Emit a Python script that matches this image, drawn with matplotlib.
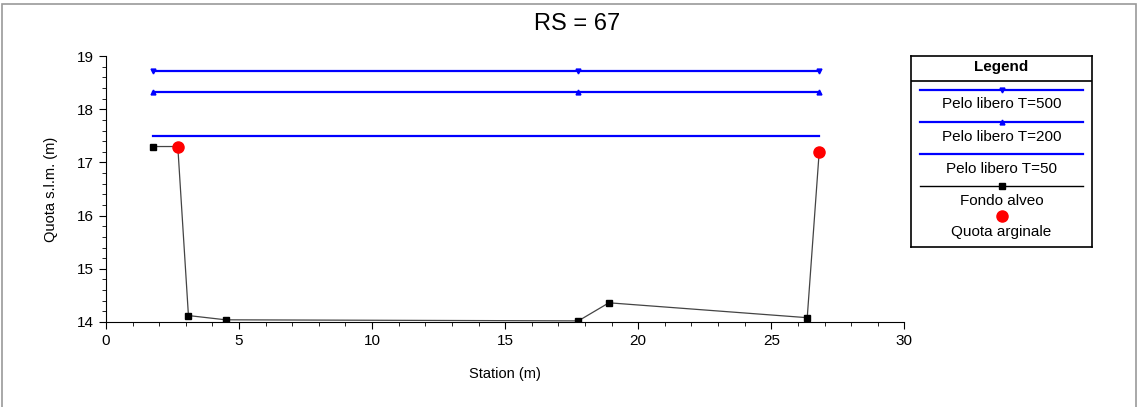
import matplotlib
matplotlib.use("Agg")
import matplotlib.pyplot as plt
from matplotlib.ticker import MultipleLocator
from matplotlib.patches import Rectangle

plt.rcParams['font.family'] = ['Liberation Sans', 'DejaVu Sans']

# Data
fondo_x = [1.75, 2.7, 3.1, 4.5, 17.75, 18.9, 26.35, 26.8]
fondo_y = [17.3, 17.3, 14.12, 14.04, 14.02, 14.36, 14.08, 17.2]
argine_x = [2.7, 26.8]
argine_y = [17.3, 17.2]
ws_x = [1.75, 17.75, 26.8]
ws_t500 = [18.72, 18.72, 18.72]
ws_t200 = [18.32, 18.32, 18.32]
ws_t50 = [17.5, 17.5, 17.5]

blue = '#0000ff'

fig = plt.figure(figsize=(11.39, 4.07), dpi=100)
fig.patches.append(Rectangle((0.002, -0.01), 0.995, 1.0, transform=fig.transFigure,
                             fill=False, edgecolor='#9a9a9a', lw=1.2))

ax = fig.add_axes([0.093, 0.209, 0.701, 0.653])
ax.plot(ws_x, ws_t500, color=blue, lw=1.6, marker='v', ms=3.5)
ax.plot(ws_x, ws_t200, color=blue, lw=1.6, marker='^', ms=3.5)
ax.plot(ws_x, ws_t50, color=blue, lw=1.6)
ax.plot(fondo_x, fondo_y, color='#444444', lw=0.9)
ax.plot(fondo_x[:1] + fondo_x[2:-1], fondo_y[:1] + fondo_y[2:-1], ls='none',
        marker='s', ms=4.5, color='black')
ax.plot(argine_x, argine_y, ls='none', marker='o', ms=8, color='#ff0000')

ax.set_xlim(0, 30)
ax.set_ylim(14, 19)
ax.xaxis.set_major_locator(MultipleLocator(5))
ax.xaxis.set_minor_locator(MultipleLocator(1))
ax.yaxis.set_major_locator(MultipleLocator(1))
ax.yaxis.set_minor_locator(MultipleLocator(0.2))
ax.spines['top'].set_visible(False)
ax.spines['right'].set_visible(False)
ax.tick_params(which='major', direction='out', length=5, labelsize=11)
ax.tick_params(which='minor', direction='out', length=3)
ax.set_xlabel('Station (m)', fontsize=10.5, labelpad=14)
ax.set_ylabel('Quota s.l.m. (m)', fontsize=10.5, labelpad=14)
fig.text(0.507, 0.94, 'RS = 67', ha='center', va='center', fontsize=17)

# Legend panel
lg = fig.add_axes([911 / 1139, 1 - 247 / 407, 181 / 1139, 191 / 407])
lg.set_xlim(0, 1)
lg.set_ylim(191, 0)
lg.set_xticks([])
lg.set_yticks([])
for s in lg.spines.values():
    s.set_linewidth(1.2)
fs = 11
lg.text(0.5, 11, 'Legend', ha='center', va='center', fontsize=fs, fontweight='bold')
lg.axhline(25, color='black', lw=1.2)
lg.plot([0.05, 0.5, 0.95], [34, 34, 34], color=blue, lw=1.6, marker='v', ms=3.5, markevery=[1])
lg.text(0.5, 48, 'Pelo libero T=500', ha='center', va='center', fontsize=fs)
lg.plot([0.05, 0.5, 0.95], [66, 66, 66], color=blue, lw=1.6, marker='^', ms=3.5, markevery=[1])
lg.text(0.5, 81, 'Pelo libero T=200', ha='center', va='center', fontsize=fs)
lg.plot([0.05, 0.95], [98, 98], color=blue, lw=1.6)
lg.text(0.5, 113, 'Pelo libero T=50', ha='center', va='center', fontsize=fs)
lg.plot([0.05, 0.5, 0.95], [130, 130, 130], color='black', lw=1.0, marker='s', ms=4.5, markevery=[1])
lg.text(0.5, 145, 'Fondo alveo', ha='center', va='center', fontsize=fs)
lg.plot([0.5], [160], ls='none', marker='o', ms=8, color='#ff0000')
lg.text(0.5, 176, 'Quota arginale', ha='center', va='center', fontsize=fs)

fig.savefig('out.png', dpi=100)
